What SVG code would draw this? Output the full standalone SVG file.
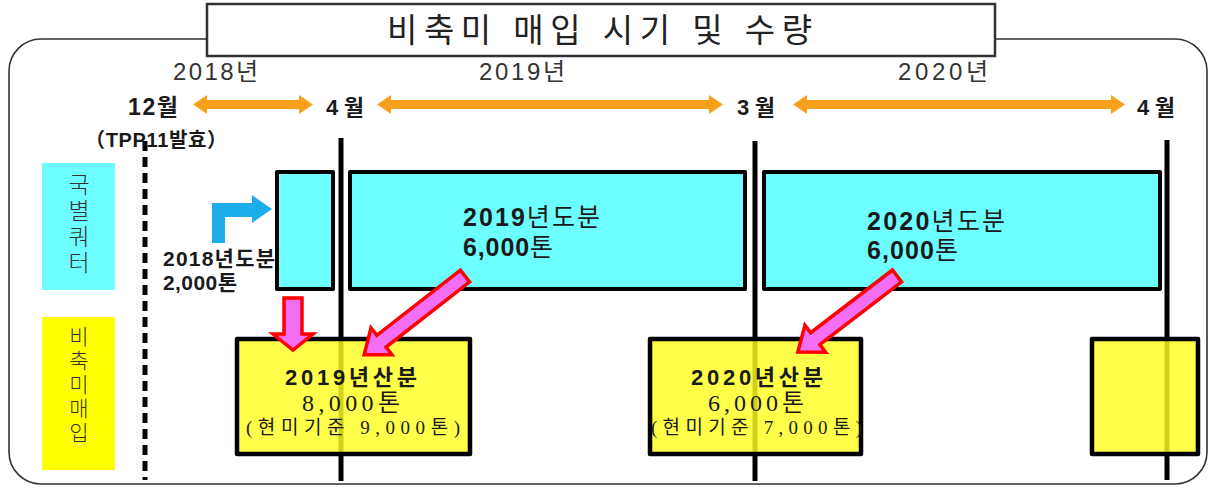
<svg xmlns="http://www.w3.org/2000/svg" width="1211" height="488" viewBox="0 0 1211 488">
<style>
.kr{font-family:'Liberation Sans','Noto Sans CJK KR',sans-serif;fill:#1a1a1a}
.sf{font-family:'Liberation Serif','Noto Sans CJK KR',serif;fill:#1a1a1a}
.b{font-weight:bold}
.vl{font-family:'Noto Sans CJK KR',sans-serif;font-weight:300;fill:#333;writing-mode:vertical-rl;text-orientation:upright;letter-spacing:3px}
.cy{fill:#6DFFFF;stroke:#000;stroke-width:4;stroke-linejoin:round}
.ye{fill:#FFFF22;fill-opacity:0.82;stroke:#000;stroke-width:4.5;stroke-linejoin:round}
.tl{stroke:#000;stroke-width:5}
.or{fill:#F7A01C}
.pk{fill:#F46EF4;stroke:#FF0000;stroke-width:3.5;stroke-linejoin:miter}
</style>
<rect width="1211" height="488" fill="#fff"/>
<g id="frame">
<rect x="9" y="39" width="1198" height="445" rx="32" ry="32" fill="none" stroke="#333" stroke-width="1.6"/>
</g>
<g id="title">
<rect x="207" y="4" width="788" height="52" fill="#fff" stroke="#333" stroke-width="2.5"/>
<text class="kr" x="387" y="42" font-size="33" textLength="425" lengthAdjust="spacing" style="fill:#222">비축미 매입 시기 및 수량</text>
</g>
<g id="timeline-labels">
<text class="kr" x="173" y="80" font-size="24" textLength="85" style="fill:#333">2018년</text>
<text class="kr" x="479" y="80" font-size="24" textLength="86" style="fill:#333">2019년</text>
<text class="kr" x="898" y="80" font-size="24" textLength="90" style="fill:#333">2020년</text>
<text class="kr b" x="128" y="115" font-size="23" textLength="50">12월</text>
<text class="kr b" x="326" y="115" font-size="22" textLength="38">4월</text>
<text class="kr b" x="737" y="115" font-size="22" textLength="38">3월</text>
<text class="kr b" x="1137" y="115" font-size="22" textLength="38">4월</text>
<text class="kr b" x="85" y="147" font-size="20" textLength="142">（TPP11발효）</text>
</g>
<g id="timeline-lines">
<line x1="145" y1="141" x2="145" y2="480" stroke="#000" stroke-width="5" stroke-dasharray="10,6"/>
<line class="tl" x1="341" y1="138" x2="341" y2="481"/>
<line class="tl" x1="755" y1="141" x2="755" y2="481"/>
<line class="tl" x1="1167" y1="140" x2="1167" y2="480"/>
</g>
<g id="label-quota">
<rect x="42" y="163" width="73" height="127" fill="#6DFFFF"/>
<text class="vl" x="79" y="173" font-size="23">국별쿼터</text>
</g>
<g id="label-purchase">
<rect x="42" y="317" width="73" height="153" fill="#FFFF00"/>
<text class="vl" x="79" y="326" font-size="21">비축미매입</text>
</g>
<g id="quota-2018">
<rect class="cy" x="277" y="172" width="56" height="117"/>
<text class="kr b" x="163" y="266" font-size="21" textLength="112">2018년도분</text>
<text class="kr b" x="163" y="290" font-size="21" textLength="74">2,000톤</text>
</g>
<g id="quota-2019">
<rect class="cy" x="350" y="172" width="395" height="117"/>
<text class="kr" x="463" y="226" font-size="25" textLength="137"><tspan class="b">2019</tspan>년도분</text>
<text class="kr" x="463" y="256" font-size="25" textLength="90"><tspan class="b">6,000</tspan>톤</text>
</g>
<g id="quota-2020">
<rect class="cy" x="764" y="172" width="396" height="117"/>
<text class="kr" x="867" y="230" font-size="25" textLength="138"><tspan class="b">2020</tspan>년도분</text>
<text class="kr" x="867" y="259" font-size="25" textLength="91"><tspan class="b">6,000</tspan>톤</text>
</g>
<g id="purchase-2019">
<rect class="ye" x="237" y="339" width="233" height="115"/>
<text class="kr b" x="285" y="385" font-size="22" textLength="132">2019년산분</text>
<text class="sf" x="302" y="411" font-size="24" textLength="98">8,000톤</text>
<text class="sf" x="246" y="434" font-size="19" textLength="214">(현미기준 9,000톤)</text>
</g>
<g id="purchase-2020">
<rect class="ye" x="650" y="339" width="211" height="115"/>
<text class="kr b" x="691" y="385" font-size="22" textLength="132">2020년산분</text>
<text class="sf" x="708" y="411" font-size="24" textLength="96">6,000톤</text>
<text class="sf" x="651" y="434" font-size="19" textLength="211">(현미기준 7,000톤)</text>
</g>
<g id="purchase-2021">
<rect class="ye" x="1092" y="339" width="106" height="115"/>
</g>
<g id="connectors">
<polygon class="or" points="193,104.5 207,95 207,100 299,100 299,95 313,104.5 299,114 299,109 207,109 207,114"/>
<polygon class="or" points="377,104.5 391,95 391,100 709,100 709,95 723,104.5 709,114 709,109 391,109 391,114"/>
<polygon class="or" points="793,104.5 807,95 807,100 1111,100 1111,95 1125,104.5 1111,114 1111,109 807,109 807,114"/>
<polygon fill="#1BAEEA" points="212,243 212,203 252,203 252,195 272,209 252,223 252,217 225,217 225,243"/>
<polygon class="pk" points="284,298 302,298 302,334 313,334 293,350 273,334 284,334"/>
<polygon class="pk" transform="translate(465,276) rotate(142)" points="0,-7.5 106,-7.5 106,-17 128,0 106,17 106,7.5 0,7.5"/>
<polygon class="pk" transform="translate(897,276) rotate(142.5)" points="0,-7.5 103,-7.5 103,-17 125,0 103,17 103,7.5 0,7.5"/>
</g>
</svg>
